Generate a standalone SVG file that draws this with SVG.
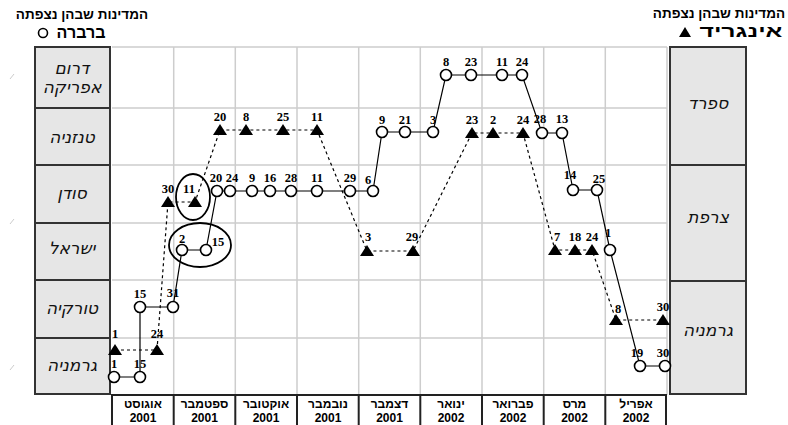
<svg xmlns="http://www.w3.org/2000/svg" width="788" height="425" viewBox="0 0 788 425">
<defs>
<style>
.hdr{font-family:"Liberation Sans",Arial,sans-serif;font-weight:bold;fill:#000}
.box{fill:#e6e6e6;stroke:#333;stroke-width:2}
.cty{font-family:"DejaVu Sans","Liberation Sans",sans-serif;font-style:italic;font-size:17px;fill:#111;text-anchor:middle}
.grid{stroke:#cdcdcd;stroke-width:1.5;fill:none}
.mon{font-family:"Liberation Sans",Arial,sans-serif;font-weight:bold;font-size:12px;text-anchor:middle;fill:#000}
.sep{stroke:#222;stroke-width:2}
.num{font-family:"Liberation Serif","Times New Roman",serif;font-weight:bold;font-size:12.5px;text-anchor:middle;fill:#000}
.bline{fill:none;stroke:#000;stroke-width:1.2}
.iline{fill:none;stroke:#000;stroke-width:1.2;stroke-dasharray:3,3}
.c{fill:#fff;stroke:#000;stroke-width:1.6}
.t{fill:#000}
.ell{fill:none;stroke:#000;stroke-width:1.8}
</style>
<polygon id="tri" points="0,-6 -7,5 7,5"/>
</defs>
<rect width="788" height="425" fill="#fff"/>

<!-- margin marks -->
<g stroke="#ccc" stroke-width="1">
<line x1="10" y1="79" x2="14" y2="74"/>
<line x1="10" y1="224" x2="14" y2="219"/>
<line x1="10" y1="370" x2="14" y2="365"/>
</g>

<!-- headers -->
<g id="legend-barbara">
<text class="hdr" x="82" y="19" font-size="13.5" text-anchor="middle">המדינות שבהן נצפתה</text>
<text class="hdr" x="81" y="38" font-size="16" text-anchor="middle" textLength="49" lengthAdjust="spacingAndGlyphs">ברברה</text>
<circle cx="43" cy="33" r="4.5" fill="#fff" stroke="#000" stroke-width="1.6"/>
</g>
<g id="legend-ingrid">
<text class="hdr" x="719" y="18" font-size="13.5" text-anchor="middle">המדינות שבהן נצפתה</text>
<text class="hdr" x="741" y="37" font-size="16" text-anchor="middle" textLength="83" lengthAdjust="spacingAndGlyphs">אינגריד</text>
<polygon points="685,27 679,37 691,37" fill="#000"/>
</g>

<!-- grid -->
<g id="grid" class="grid">
<line x1="112" y1="47" x2="667" y2="47"/>
<line x1="112" y1="108" x2="667" y2="108"/>
<line x1="112" y1="165" x2="667" y2="165"/>
<line x1="112" y1="223" x2="667" y2="223"/>
<line x1="112" y1="280" x2="667" y2="280"/>
<line x1="112" y1="338" x2="667" y2="338"/>
<line x1="173.7" y1="47" x2="173.7" y2="395"/>
<line x1="235.3" y1="47" x2="235.3" y2="395"/>
<line x1="297" y1="47" x2="297" y2="395"/>
<line x1="358.7" y1="47" x2="358.7" y2="395"/>
<line x1="420.3" y1="47" x2="420.3" y2="395"/>
<line x1="482" y1="47" x2="482" y2="395"/>
<line x1="543.7" y1="47" x2="543.7" y2="395"/>
<line x1="605.3" y1="47" x2="605.3" y2="395"/>
<line x1="667" y1="47" x2="667" y2="395"/>
</g>

<!-- left country boxes (Barbara) -->
<g id="left-south-africa"><rect class="box" x="35" y="47" width="75" height="61"/><text class="cty" x="72" y="74">דרום</text><text class="cty" x="72" y="93">אפריקה</text></g>
<g id="left-tanzania"><rect class="box" x="35" y="108" width="75" height="57"/><text class="cty" x="72" y="143">טנזניה</text></g>
<g id="left-sudan"><rect class="box" x="35" y="165" width="75" height="58"/><text class="cty" x="72" y="199">סודן</text></g>
<g id="left-israel"><rect class="box" x="35" y="223" width="75" height="57"/><text class="cty" x="72" y="254">ישראל</text></g>
<g id="left-turkey"><rect class="box" x="35" y="280" width="75" height="58"/><text class="cty" x="72" y="314">טורקיה</text></g>
<g id="left-germany"><rect class="box" x="35" y="338" width="75" height="56"/><text class="cty" x="72" y="371">גרמניה</text></g>

<!-- right country boxes (Ingrid) -->
<g id="right-spain"><rect class="box" x="670" y="47" width="76" height="118"/><text class="cty" x="708" y="109">ספרד</text></g>
<g id="right-france"><rect class="box" x="670" y="165" width="76" height="116"/><text class="cty" x="708" y="223">צרפת</text></g>
<g id="right-germany"><rect class="box" x="670" y="281" width="76" height="113"/><text class="cty" x="708" y="336">גרמניה</text></g>

<!-- month axis -->
<g id="months">
<line class="sep" x1="111" y1="395" x2="667" y2="395"/>
<line class="sep" x1="112" y1="395" x2="112" y2="425"/>
<line class="sep" x1="173.7" y1="395" x2="173.7" y2="425"/>
<line class="sep" x1="235.3" y1="395" x2="235.3" y2="425"/>
<line class="sep" x1="297" y1="395" x2="297" y2="425"/>
<line class="sep" x1="358.7" y1="395" x2="358.7" y2="425"/>
<line class="sep" x1="420.3" y1="395" x2="420.3" y2="425"/>
<line class="sep" x1="482" y1="395" x2="482" y2="425"/>
<line class="sep" x1="543.7" y1="395" x2="543.7" y2="425"/>
<line class="sep" x1="605.3" y1="395" x2="605.3" y2="425"/>
<line class="sep" x1="666" y1="395" x2="666" y2="425"/>
<text class="mon" x="143" y="408">אוגוסט</text><text class="mon" x="143" y="422">2001</text>
<text class="mon" x="204.5" y="408">ספטמבר</text><text class="mon" x="204.5" y="422">2001</text>
<text class="mon" x="266" y="408">אוקטובר</text><text class="mon" x="266" y="422">2001</text>
<text class="mon" x="328" y="408">נובמבר</text><text class="mon" x="328" y="422">2001</text>
<text class="mon" x="389.5" y="408">דצמבר</text><text class="mon" x="389.5" y="422">2001</text>
<text class="mon" x="451" y="408">ינואר</text><text class="mon" x="451" y="422">2002</text>
<text class="mon" x="513" y="408">פברואר</text><text class="mon" x="513" y="422">2002</text>
<text class="mon" x="574.5" y="408">מרס</text><text class="mon" x="574.5" y="422">2002</text>
<text class="mon" x="636" y="408">אפריל</text><text class="mon" x="636" y="422">2002</text>
</g>

<!-- connectors -->
<g id="connectors">
<polyline class="bline" points="114,377 140,377 140,307 173,307 182,250 206,250 217,191 230,191 252,191 270,191 291,191 317,191 350,191 373,191 382,132 405,132 433,132 446,75 471,75 502,75 522,75 542,133 562,133 573,190 597,190 610,250 640,366 665,366"/>
<polyline class="iline" points="115,350 157,350 168,202 195,202 220,130 246,130 283,130 317,130 367,251 413,251 472,133 493,133 523,133 555,250 575,250 592,250 616,320 663,320"/>
</g>

<!-- Ingrid points -->
<g id="ingrid-points" class="t">
<use href="#tri" x="115" y="350"/><use href="#tri" x="157" y="350"/>
<use href="#tri" x="168" y="202"/><use href="#tri" x="195" y="202"/>
<use href="#tri" x="220" y="130"/><use href="#tri" x="246" y="130"/><use href="#tri" x="283" y="130"/><use href="#tri" x="317" y="130"/>
<use href="#tri" x="367" y="251"/><use href="#tri" x="413" y="251"/>
<use href="#tri" x="472" y="133"/><use href="#tri" x="493" y="133"/><use href="#tri" x="523" y="133"/>
<use href="#tri" x="555" y="250"/><use href="#tri" x="575" y="250"/><use href="#tri" x="592" y="250"/>
<use href="#tri" x="616" y="320"/><use href="#tri" x="663" y="320"/>
</g>
<g id="ingrid-labels">
<text class="num" x="115" y="338">1</text><text class="num" x="157" y="338">24</text>
<text class="num" x="168" y="193">30</text><text class="num" x="189" y="193">11</text>
<text class="num" x="220" y="121">20</text><text class="num" x="246" y="121">8</text><text class="num" x="283" y="121">25</text><text class="num" x="317" y="121">11</text>
<text class="num" x="368" y="241">3</text><text class="num" x="412" y="241">29</text>
<text class="num" x="472" y="124">23</text><text class="num" x="493" y="124">2</text><text class="num" x="523" y="124">24</text>
<text class="num" x="557" y="241">7</text><text class="num" x="575" y="241">18</text><text class="num" x="592" y="241">24</text>
<text class="num" x="618" y="313">8</text><text class="num" x="663" y="311">30</text>
</g>

<!-- Barbara points -->
<g id="barbara-points" class="c">
<circle cx="114" cy="377" r="5.5"/><circle cx="140" cy="377" r="5.5"/>
<circle cx="140" cy="307" r="5.5"/><circle cx="173" cy="307" r="5.5"/>
<circle cx="182" cy="250" r="5.5"/><circle cx="206" cy="250" r="5.5"/>
<circle cx="217" cy="191" r="5.5"/><circle cx="230" cy="191" r="5.5"/><circle cx="252" cy="191" r="5.5"/><circle cx="270" cy="191" r="5.5"/><circle cx="291" cy="191" r="5.5"/><circle cx="317" cy="191" r="5.5"/><circle cx="350" cy="191" r="5.5"/><circle cx="373" cy="191" r="5.5"/>
<circle cx="382" cy="132" r="5.5"/><circle cx="405" cy="132" r="5.5"/><circle cx="433" cy="132" r="5.5"/>
<circle cx="446" cy="75" r="5.5"/><circle cx="471" cy="75" r="5.5"/><circle cx="502" cy="75" r="5.5"/><circle cx="522" cy="75" r="5.5"/>
<circle cx="542" cy="133" r="5.5"/><circle cx="562" cy="133" r="5.5"/>
<circle cx="573" cy="190" r="5.5"/><circle cx="597" cy="190" r="5.5"/>
<circle cx="610" cy="250" r="5.5"/>
<circle cx="640" cy="366" r="5.5"/><circle cx="665" cy="366" r="5.5"/>
</g>
<g id="barbara-labels">
<text class="num" x="114" y="368">1</text><text class="num" x="140" y="368">15</text>
<text class="num" x="140" y="298">15</text><text class="num" x="173" y="297">31</text>
<text class="num" x="182" y="243">2</text><text class="num" x="218" y="246">15</text>
<text class="num" x="216" y="182">20</text><text class="num" x="232" y="182">24</text><text class="num" x="252" y="182">9</text><text class="num" x="270" y="182">16</text><text class="num" x="291" y="182">28</text><text class="num" x="317" y="182">11</text><text class="num" x="350" y="182">29</text><text class="num" x="368" y="184">6</text>
<text class="num" x="382" y="124">9</text><text class="num" x="405" y="124">21</text><text class="num" x="433" y="124">3</text>
<text class="num" x="446" y="66">8</text><text class="num" x="471" y="66">23</text><text class="num" x="502" y="66">11</text><text class="num" x="522" y="66">24</text>
<text class="num" x="540" y="123">28</text><text class="num" x="562" y="123">13</text>
<text class="num" x="570" y="179">14</text><text class="num" x="599" y="183">25</text>
<text class="num" x="608" y="237">1</text>
<text class="num" x="637" y="357">19</text><text class="num" x="663" y="357">30</text>
</g>

<!-- highlight ellipses -->
<g id="highlights">
<ellipse class="ell" cx="193" cy="197" rx="17" ry="23"/>
<ellipse class="ell" cx="200" cy="245" rx="31" ry="22"/>
</g>
</svg>
